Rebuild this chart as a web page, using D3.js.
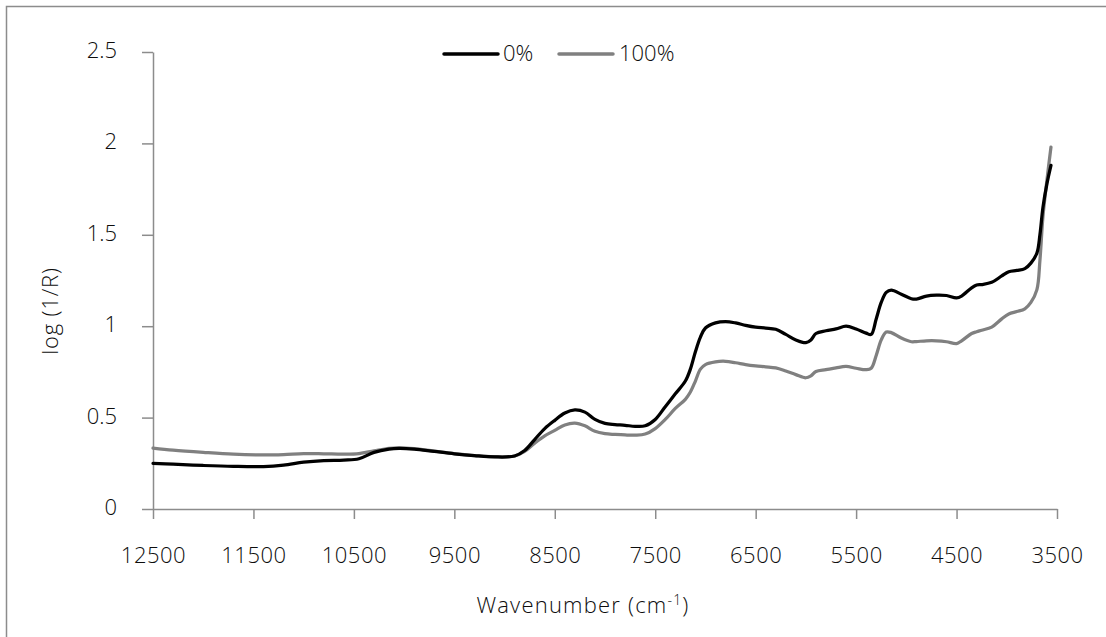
<!DOCTYPE html>
<html>
<head>
<meta charset="utf-8">
<script src="https://cdn.jsdelivr.net/npm/d3@7/dist/d3.min.js"></script>
<style>
  html, body { margin: 0; padding: 0; background: #fff; }
  svg { display: block; font-family: "Open Sans", "Noto Sans", sans-serif; font-weight: 300; }
</style>
</head>
<body>
<svg id="chart" width="1106" height="637"></svg>
<script>
// NIR spectra: wavenumber (cm-1) vs log(1/R)
const wavenumbers = [12500, 12300, 12000, 11700, 11400, 11200, 11000, 10800, 10600, 10450,
  10300, 10150, 10050, 9900, 9700, 9500, 9300, 9100, 8900, 8800,
  8700, 8600, 8500, 8400, 8300, 8200, 8100, 8000, 7900, 7800,
  7700, 7600, 7500, 7400, 7300, 7200, 7150, 7100, 7050, 7000,
  6900, 6800, 6700, 6600, 6500, 6400, 6300, 6200, 6100, 6000,
  5950, 5900, 5800, 5700, 5600, 5500, 5400, 5350, 5300, 5250,
  5200, 5150, 5050, 4950, 4900, 4800, 4700, 4600, 4500, 4450,
  4350, 4300, 4250, 4150, 4050, 3980, 3900, 3820, 3760, 3700,
  3670, 3640, 3600, 3560];

const series0 = [0.250, 0.245, 0.238, 0.233, 0.232, 0.240, 0.256, 0.265, 0.268, 0.275,
  0.310, 0.328, 0.332, 0.328, 0.315, 0.302, 0.292, 0.285, 0.290, 0.320,
  0.380, 0.440, 0.485, 0.525, 0.542, 0.530, 0.490, 0.468, 0.462, 0.458,
  0.452, 0.455, 0.490, 0.560, 0.630, 0.700, 0.765, 0.860, 0.940, 0.990,
  1.018, 1.025, 1.018, 1.005, 0.995, 0.990, 0.983, 0.955, 0.925, 0.910,
  0.925, 0.960, 0.975, 0.985, 1.000, 0.985, 0.962, 0.955, 1.040, 1.130,
  1.185, 1.198, 1.175, 1.150, 1.148, 1.165, 1.170, 1.168, 1.155, 1.165,
  1.210, 1.225, 1.228, 1.240, 1.275, 1.298, 1.305, 1.315, 1.345, 1.400,
  1.500, 1.650, 1.780, 1.880];

const series100 = [0.333, 0.322, 0.310, 0.300, 0.296, 0.298, 0.303, 0.302, 0.300, 0.303,
  0.318, 0.332, 0.335, 0.330, 0.316, 0.303, 0.292, 0.286, 0.290, 0.315,
  0.360, 0.400, 0.430, 0.460, 0.470, 0.455, 0.425, 0.412, 0.408, 0.405,
  0.404, 0.410, 0.440, 0.490, 0.550, 0.600, 0.640, 0.700, 0.765, 0.790,
  0.805, 0.808, 0.800, 0.790, 0.783, 0.778, 0.772, 0.755, 0.735, 0.718,
  0.728, 0.752, 0.762, 0.772, 0.780, 0.770, 0.762, 0.770, 0.840, 0.925,
  0.968, 0.965, 0.935, 0.915, 0.916, 0.920, 0.920, 0.915, 0.905, 0.920,
  0.960, 0.970, 0.978, 0.995, 1.040, 1.067, 1.080, 1.095, 1.130, 1.200,
  1.360, 1.600, 1.800, 1.980];

const seriesNames = ["0%", "100%"];
const seriesColors = ["#000000", "#808080"];
const xTicks = [12500, 11500, 10500, 9500, 8500, 7500, 6500, 5500, 4500, 3500];
const yTicks = [0, 0.5, 1, 1.5, 2, 2.5];

const svg = d3.select("#chart");
const axisColor = "#8c8c8c";
const textColor = "#0d0d0d";
const fontSize = 22;

// chart frame
svg.append("rect")
  .attr("x", 6.5).attr("y", 6.5)
  .attr("width", 1120).attr("height", 650)
  .attr("fill", "none").attr("stroke", axisColor).attr("stroke-width", 1.5);

const plot = { left: 153, right: 1057, top: 52, bottom: 509 };

const x = d3.scaleLinear().domain([12500, 3500]).range([plot.left, plot.right]);
const y = d3.scaleLinear().domain([0, 2.5]).range([plot.bottom, plot.top]);

// y axis
const yAxis = svg.append("g")
  .attr("transform", `translate(${plot.left},0)`)
  .call(d3.axisLeft(y).tickValues(yTicks).tickSize(11).tickSizeOuter(0)
    .tickFormat(d => d3.format("")(d)));
yAxis.select(".domain").attr("stroke", axisColor).attr("stroke-width", 1.5);
yAxis.selectAll(".tick line").attr("stroke", axisColor).attr("stroke-width", 1.5);
yAxis.selectAll(".tick text")
  .attr("x", 117 - plot.left).attr("dy", null).attr("y", 5.5)
  .attr("text-anchor", "end")
  .attr("fill", textColor).style("font-size", fontSize + "px")
  .style("font-family", "'Open Sans', 'Noto Sans', sans-serif").style("font-weight", 300);

// x axis
const xAxis = svg.append("g")
  .attr("transform", `translate(0,${plot.bottom})`)
  .call(d3.axisBottom(x).tickValues(xTicks).tickSize(10).tickSizeOuter(0)
    .tickFormat(d => String(d)));
xAxis.select(".domain").attr("stroke", axisColor).attr("stroke-width", 1.5);
xAxis.selectAll(".tick line").attr("stroke", axisColor).attr("stroke-width", 1.5);
xAxis.selectAll(".tick text")
  .attr("y", 563 - plot.bottom).attr("dy", null)
  .attr("fill", textColor).style("font-size", fontSize + "px")
  .style("letter-spacing", "0.5px")
  .style("font-family", "'Open Sans', 'Noto Sans', sans-serif").style("font-weight", 300);

// axis titles
const xTitle = svg.append("text")
  .attr("x", 583).attr("y", 613)
  .attr("text-anchor", "middle")
  .style("letter-spacing", "1.2px")
  .attr("fill", textColor).style("font-size", fontSize + "px");
xTitle.append("tspan").text("Wavenumber (cm");
xTitle.append("tspan").attr("dy", -8).style("font-size", "14px").text("-1");
xTitle.append("tspan").attr("dy", 8).text(")");

svg.append("text")
  .attr("transform", "translate(58,311) rotate(-90)")
  .attr("text-anchor", "middle")
  .style("letter-spacing", "0.8px")
  .attr("fill", textColor).style("font-size", fontSize + "px")
  .text("log (1/R)");

// spectra
const allSeries = [series0, series100];
const line = d3.line()
  .x(d => x(d[0]))
  .y(d => y(d[1]))
  .curve(d3.curveCatmullRom.alpha(0.5));

// draw 100% first so 0% sits on top where they overlap
[1, 0].forEach(i => {
  const pts = wavenumbers.map((w, k) => [w, allSeries[i][k]]);
  svg.append("path")
    .datum(pts)
    .attr("d", line)
    .attr("fill", "none")
    .attr("stroke", seriesColors[i])
    .attr("stroke-width", 3.25)
    .attr("stroke-linejoin", "round")
    .attr("stroke-linecap", "round");
});

// legend
const legendItems = [
  { x1: 444, x2: 498, tx: 503 },
  { x1: 559, x2: 613, tx: 619 }
];
legendItems.forEach((it, i) => {
  svg.append("line")
    .attr("x1", it.x1).attr("x2", it.x2).attr("y1", 54).attr("y2", 54)
    .attr("stroke", seriesColors[i]).attr("stroke-width", 3.5)
    .attr("stroke-linecap", "round");
  svg.append("text")
    .attr("x", it.tx).attr("y", 61)
    .attr("fill", textColor).style("font-size", fontSize + "px")
    .text(seriesNames[i]);
});
</script>
</body>
</html>
